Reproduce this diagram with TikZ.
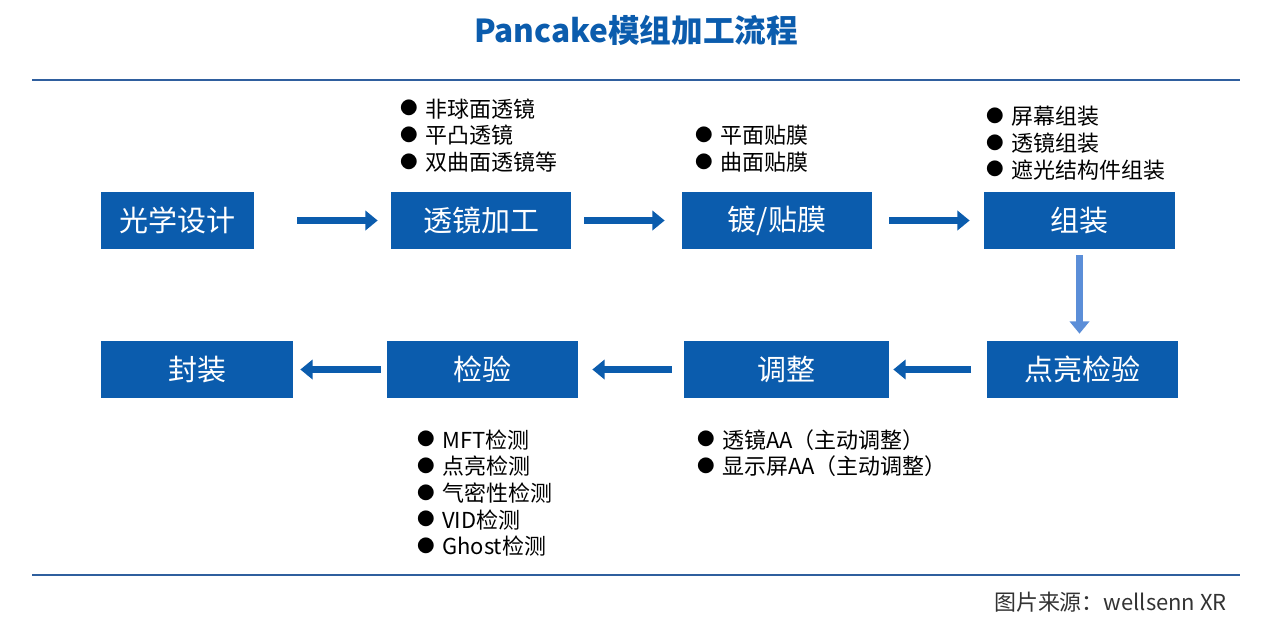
\documentclass[tikz,border=0pt]{standalone}
\usepackage{fontspec}
\usepackage{xcolor}
\usetikzlibrary{arrows.meta, positioning}
\setmainfont{Noto Sans CJK SC}
\definecolor{WSBlue}{HTML}{0B5CAD}
\definecolor{WSLight}{HTML}{5B8ED8}
\definecolor{WSRule}{HTML}{2F5F9E}
\definecolor{WSGray}{HTML}{333333}
\newcommand{\wsitem}{\makebox[0.5cm][l]{\raisebox{0.1em}{\fontsize{10}{10}\selectfont ●}}}

\begin{document}
\begin{tikzpicture}[
    stage/.style={fill=WSBlue, text=white, minimum height=1.14cm, inner sep=0pt, font=\fontsize{16.5}{19}\selectfont},
    note/.style={anchor=west, align=left, inner sep=0pt, font=\fontsize{12.5}{15.2}\selectfont},
    arrow/.style={-{Triangle[length=7pt, width=11pt]}, line width=4pt, color=WSBlue},
    rule/.style={line width=1.2pt, color=WSRule}
]
    \useasboundingbox (0,0) rectangle (25.34,-12.58);

    % title and rules
    \node[font=\fontsize{18}{22}\selectfont\bfseries, text=WSBlue] (title) at (12.72,-0.6) {Pancake模组加工流程};
    \coordinate (topL) at (0.64,-1.6);
    \coordinate (topR) at (24.8,-1.6);
    \coordinate (botL) at (0.64,-11.5);
    \coordinate (botR) at (24.8,-11.5);
    \draw[rule] (topL) -- (topR);
    \draw[rule] (botL) -- (botR);
    \node[anchor=east, text=WSGray, font=\fontsize{12.5}{15}\selectfont] (source) at (24.66,-12.04) {图片来源：wellsenn XR};

    % process steps
    \node[stage, minimum width=3.06cm] (design) at (3.55,-4.41) {光学设计};
    \node[stage, minimum width=3.6cm] (lens) at (9.62,-4.41) {透镜加工};
    \node[stage, minimum width=3.8cm] (film) at (15.54,-4.41) {镀/贴膜};
    \node[stage, minimum width=3.82cm] (assembly) at (21.59,-4.41) {组装};
    \node[stage, minimum width=3.82cm] (lighttest) at (21.64,-7.39) {点亮检验};
    \node[stage, minimum width=4.1cm] (adjust) at (15.73,-7.39) {调整};
    \node[stage, minimum width=3.82cm] (inspect) at (9.65,-7.39) {检验};
    \node[stage, minimum width=3.84cm] (package) at (3.94,-7.39) {封装};

    % notes
    \node[note] (lensnote) at (8.0,-2.71) {\wsitem 非球面透镜\\\wsitem 平凸透镜\\\wsitem 双曲面透镜等};
    \node[note] (filmnote) at (13.9,-2.98) {\wsitem 平面贴膜\\\wsitem 曲面贴膜};
    \node[note] (assemblynote) at (19.72,-2.86) {\wsitem 屏幕组装\\\wsitem 透镜组装\\\wsitem 遮光结构件组装};
    \node[note] (inspectnote) at (8.34,-9.86) {\wsitem MFT检测\\\wsitem 点亮检测\\\wsitem 气密性检测\\\wsitem VID检测\\\wsitem Ghost检测};
    \node[note] (adjustnote) at (13.94,-9.06) {\wsitem 透镜AA（主动调整）\\\wsitem 显示屏AA（主动调整）};

    % flow
    \draw[arrow, shorten <=0.86cm, shorten >=0.26cm] (design) -- (lens);
    \draw[arrow, shorten <=0.26cm, shorten >=0.34cm] (lens) -- (film);
    \draw[arrow, shorten <=0.34cm, shorten >=0.28cm] (film) -- (assembly);
    \draw[arrow, color=WSLight, shorten <=0.12cm, shorten >=0.14cm] (assembly.south) -- (assembly.south |- lighttest.north);
    \draw[arrow, shorten <=0.3cm, shorten >=0.08cm] (lighttest) -- (adjust);
    \draw[arrow, shorten <=0.24cm, shorten >=0.28cm] (adjust) -- (inspect);
    \draw[arrow, shorten <=0.12cm, shorten >=0.14cm] (inspect) -- (package);
\end{tikzpicture}
\end{document}
